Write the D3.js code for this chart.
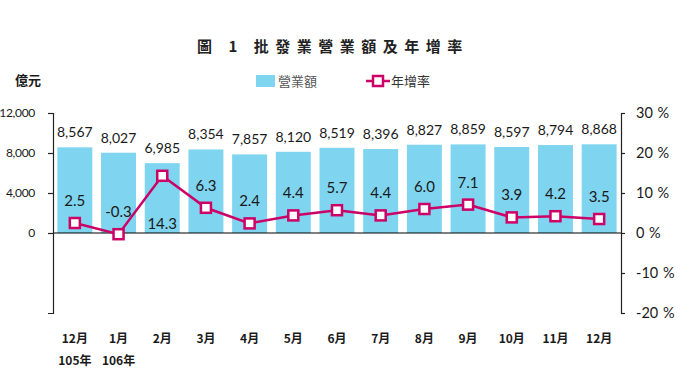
<!DOCTYPE html>
<meta charset="UTF-8">
<script src="https://d3js.org/d3.v7.min.js"></script>
<style>
  body { margin: 0; background: #fff; }
  text { font-family: Lato, "Noto Sans CJK TC", sans-serif; fill: #1a1a1a; }
</style>
<svg id="chart" width="680" height="383"></svg>
<script>
// data
var months = ["12月", "1月", "2月", "3月", "4月", "5月", "6月", "7月", "8月", "9月", "10月", "11月", "12月"];
var years = ["105年", "106年", "", "", "", "", "", "", "", "", "", "", ""];
var sales = [8567, 8027, 6985, 8354, 7857, 8120, 8519, 8396, 8827, 8859, 8597, 8794, 8868];
var growth = [2.5, -0.3, 14.3, 6.3, 2.4, 4.4, 5.7, 4.4, 6.0, 7.1, 3.9, 4.2, 3.5];
var leftTicks = [0, 4000, 8000, 12000];
var rightTicks = [-20, -10, 0, 10, 20, 30];

var svg = d3.select("#chart");
var barColor = "#7fd4f0", lineColor = "#cc0066";
var cjk = "'Noto Sans CJK TC', sans-serif";

var x = d3.scaleBand().domain(d3.range(months.length)).range([53, 621]).paddingInner(0.2).paddingOuter(0.1);
var yL = d3.scaleLinear().domain([-8000, 12000]).range([313, 113]);
var yR = d3.scaleLinear().domain([-20, 30]).range([313, 113]);

// title
svg.append("text")
  .attr("x", 197).attr("y", 52)
  .style("font-family", cjk).style("font-size", "15px").style("font-weight", 700)
  .style("letter-spacing", "6.5px").style("fill", "#222")
  .text("圖 1  批發業營業額及年增率");

// unit
svg.append("text")
  .attr("x", 15).attr("y", 85)
  .style("font-family", cjk).style("font-size", "13px").style("font-weight", 700)
  .text("億元");

// legend
var lg = svg.append("g");
lg.append("rect").attr("x", 256).attr("y", 75).attr("width", 19).attr("height", 12).attr("fill", barColor);
lg.append("text").attr("x", 278).attr("y", 86)
  .style("font-family", cjk).style("font-size", "13px").style("fill", "#555").text("營業額");
lg.append("line").attr("x1", 366).attr("x2", 390).attr("y1", 81).attr("y2", 81)
  .attr("stroke", lineColor).attr("stroke-width", 2.5);
lg.append("rect").attr("x", 373).attr("y", 76).attr("width", 10).attr("height", 10)
  .attr("fill", "#fff").attr("stroke", lineColor).attr("stroke-width", 2.5);
lg.append("text").attr("x", 391).attr("y", 86)
  .style("font-family", cjk).style("font-size", "13px").style("fill", "#333").text("年增率");

// bars
svg.append("g").selectAll("rect")
  .data(sales)
  .enter().append("rect")
    .attr("x", function(d, i) { return x(i); })
    .attr("y", function(d) { return yL(d); })
    .attr("width", x.bandwidth())
    .attr("height", function(d) { return yL(0) - yL(d); })
    .attr("fill", barColor);

svg.append("g").selectAll("text")
  .data(sales)
  .enter().append("text")
    .attr("x", function(d, i) { return x(i) + x.bandwidth() / 2; })
    .attr("y", function(d) { return yL(d) - 10; })
    .attr("text-anchor", "middle")
    .style("font-size", "14px")
    .text(function(d) { return d3.format(",")(d); });

// zero line
svg.append("line")
  .attr("x1", 53).attr("x2", 621)
  .attr("y1", yL(0)).attr("y2", yL(0))
  .attr("stroke", "#000").attr("stroke-width", 1.2);

// axes
var axL = svg.append("g").attr("transform", "translate(53,0)")
  .call(d3.axisLeft(yL).tickValues(leftTicks).tickSize(5).tickSizeOuter(5).tickPadding(13).tickFormat(d3.format(",")));
var axR = svg.append("g").attr("transform", "translate(621,0)")
  .call(d3.axisRight(yR).tickValues(rightTicks).tickSize(4).tickSizeOuter(4).tickPadding(11).tickFormat(function(d) { return d + " %"; }));
[axL, axR].forEach(function(ax) {
  ax.selectAll("path, line").attr("stroke", "#222").attr("stroke-width", 1.2);
  ax.selectAll("text").style("font-family", "Lato, sans-serif").attr("fill", "#1a1a1a");
});
axL.selectAll("text").style("font-size", "12px").style("letter-spacing", "-0.3px");
axR.selectAll("text").style("font-size", "14.5px").style("word-spacing", "1px");

// growth line
var cx = function(i) { return x(i) + x.bandwidth() / 2; };
svg.append("path")
  .datum(growth)
  .attr("d", d3.line().x(function(d, i) { return cx(i); }).y(function(d) { return yR(d); }))
  .attr("fill", "none").attr("stroke", lineColor).attr("stroke-width", 2.5);

svg.append("g").selectAll("rect")
  .data(growth)
  .enter().append("rect")
    .attr("x", function(d, i) { return cx(i) - 5; })
    .attr("y", function(d) { return yR(d) - 5; })
    .attr("width", 10).attr("height", 10)
    .attr("fill", "#fff").attr("stroke", lineColor).attr("stroke-width", 2.5);

svg.append("g").selectAll("text")
  .data(growth)
  .enter().append("text")
    .attr("x", function(d, i) { return cx(i); })
    .attr("y", function(d) {
      // the peak label sits under its marker
      return d === d3.max(growth) ? yR(d) + 53 : yR(d) - 17;
    })
    .attr("text-anchor", "middle")
    .style("font-size", "15px")
    .text(function(d) { return d.toFixed(1); });

// category labels
var xl = svg.append("g");
xl.selectAll("text.m")
  .data(months)
  .enter().append("text")
    .attr("class", "m")
    .attr("x", function(d, i) { return cx(i); })
    .attr("y", 343)
    .attr("text-anchor", "middle")
    .style("font-family", cjk).style("font-size", "12px").style("font-weight", 700)
    .text(function(d) { return d; });
xl.selectAll("text.y")
  .data(years)
  .enter().append("text")
    .attr("class", "y")
    .attr("x", function(d, i) { return cx(i); })
    .attr("y", 365)
    .attr("text-anchor", "middle")
    .style("font-family", cjk).style("font-size", "12px").style("font-weight", 700)
    .text(function(d) { return d; });
</script>
